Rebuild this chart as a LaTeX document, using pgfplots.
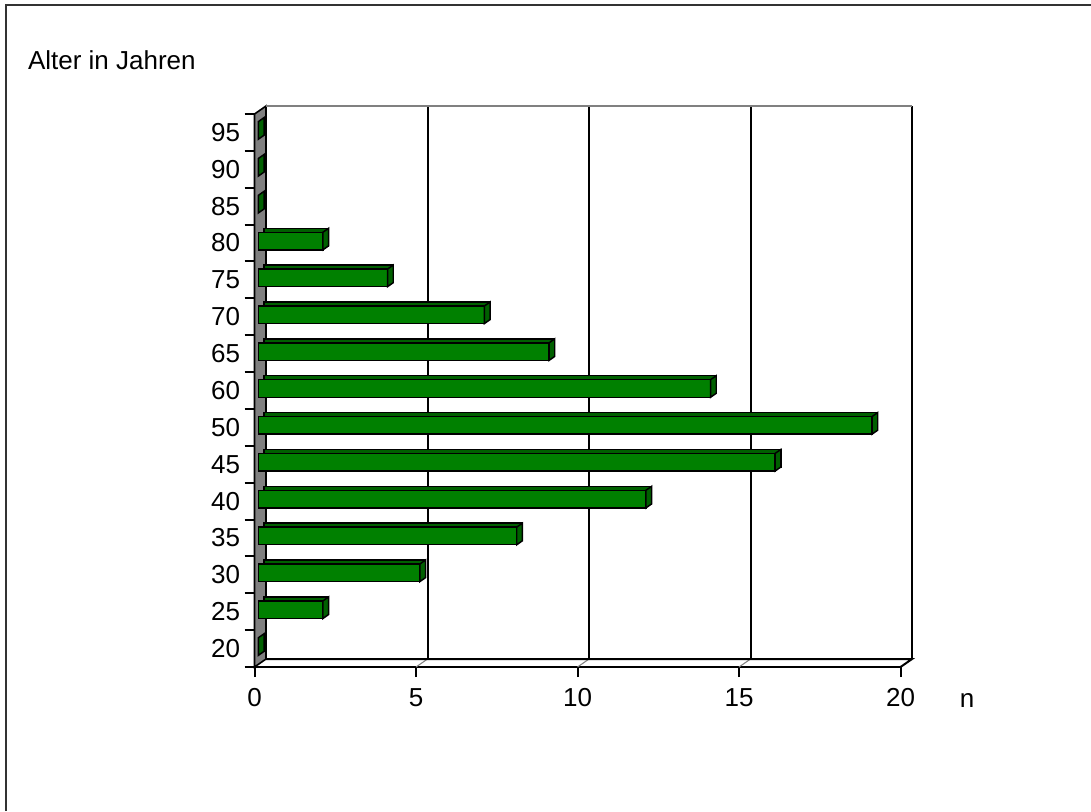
\documentclass[border=0pt]{standalone}
\usepackage{fontspec}
\setmainfont{Liberation Sans}
\usepackage{pgfplots}
\pgfplotsset{compat=1.18}
\usepackage{pgfplotstable}
\usetikzlibrary{calc}

\definecolor{barfront}{RGB}{0,128,0}
\definecolor{barside}{RGB}{0,96,0}
\definecolor{wallgray}{RGB}{128,128,128}

% right-hand end face of a bar (drawn at the bar's end point)
\pgfdeclareplotmark{barend}{%
  \pgfpathmoveto{\pgfqpoint{0pt}{-6.6pt}}%
  \pgfpathlineto{\pgfqpoint{0pt}{6.6pt}}%
  \pgfpathlineto{\pgfqpoint{4.275pt}{9.6pt}}%
  \pgfpathlineto{\pgfqpoint{4.275pt}{-3.6pt}}%
  \pgfpathclose
  \pgfusepathqfillstroke}

\pgfplotstableread{
idx age n
0 20 0
1 25 2
2 30 5
3 35 8
4 40 12
5 45 16
6 50 19
7 60 14
8 65 9
9 70 7
10 75 4
11 80 2
12 85 0
13 90 0
14 95 0
}\agedata

% depth offset of the back wall
\def\dx{8.625pt}
\def\dy{6pt}
\newcommand{\chartfont}{\fontsize{19.5}{23}\selectfont}

\begin{document}
\begin{tikzpicture}
\useasboundingbox (0,0) rectangle (818.25pt,608.25pt);
% frame
\draw[black!80, line width=1.5pt] (4.5pt,0) -- (4.5pt,604.5pt) -- (818.25pt,604.5pt);
% title
\node[anchor=base west, inner sep=0pt, font=\chartfont]
  at (20.8pt,556.3pt) {Alter in Jahren};

\begin{axis}[
  at={(190.9pt,108pt)}, anchor=south west,
  scale only axis, width=484.5pt, height=414.75pt,
  clip=false,
  xmin=0, xmax=20, ymin=-0.5, ymax=14.5,
  axis x line*=bottom, axis y line*=left,
  axis line style={black, line width=1.5pt},
  xtick={0,5,...,20},
  ytick={0,...,14},
  yticklabels from table={\agedata}{age},
  minor ytick={-0.5,0.5,...,14.5},
  tick align=outside,
  major tick length=7.5pt, minor tick length=7.5pt,
  every tick/.style={black, line width=1.5pt},
  major y tick style={draw=none},
  minor y tick style={draw=black, line width=1.5pt},
  /pgf/number format/assume math mode=true,
  tick label style={font=\chartfont},
  xticklabel style={anchor=north, inner sep=0pt, yshift=-8.5pt},
  yticklabel style={anchor=east, inner sep=0pt, xshift=-3.2pt},
  xlabel={n},
  xlabel style={at={(rel axis cs:1.103,0)}, anchor=base, inner sep=0pt,
    yshift=-30.7pt, font=\chartfont},
]
% side wall
\filldraw[fill=wallgray, draw=black, line width=1.2pt]
  (axis cs:0,-0.5) -- (axis cs:0,14.5) -- ($(axis cs:0,14.5)+(\dx,\dy)$)
  -- ($(axis cs:0,-0.5)+(\dx,\dy)$) -- cycle;
% grid on floor and back wall
\pgfplotsinvokeforeach{5,10,15}{
  \draw[gray, line width=0.8pt] (axis cs:#1,-0.5) -- ++(\dx,\dy);
  \draw[black, line width=1.5pt] ($(axis cs:#1,-0.5)+(\dx,\dy)$) -- ($(axis cs:#1,14.5)+(\dx,\dy)$);
}
% back wall edges and floor
\draw[black, line width=1.5pt] ($(axis cs:0,-0.5)+(\dx,\dy)$) -- ($(axis cs:20,-0.5)+(\dx,\dy)$)
  -- (axis cs:20,-0.5);
\draw[black, line width=1.5pt] ($(axis cs:20,-0.5)+(\dx,\dy)$) -- ($(axis cs:20,14.5)+(\dx,\dy)$);
\draw[gray, line width=1.5pt] ($(axis cs:0,14.5)+(\dx,\dy)$) -- ($(axis cs:20,14.5)+(\dx,\dy)$);

% bars: top/back, front face, end face
\addplot[xbar, bar width=0.477, fill=barside, draw=black, line width=1.1pt,
  xshift=7.125pt, yshift=4.5pt] table[x=n, y=idx] {\agedata};
\addplot[xbar, bar width=0.477, fill=barfront, draw=black, line width=1.1pt,
  xshift=2.85pt, yshift=1.5pt] table[x=n, y=idx] {\agedata};
\addplot[only marks, mark=barend, mark options={fill=barside, draw=black, line width=1.1pt},
  xshift=2.85pt, yshift=1.5pt] table[x=n, y=idx] {\agedata};
\end{axis}
\end{tikzpicture}
\end{document}
